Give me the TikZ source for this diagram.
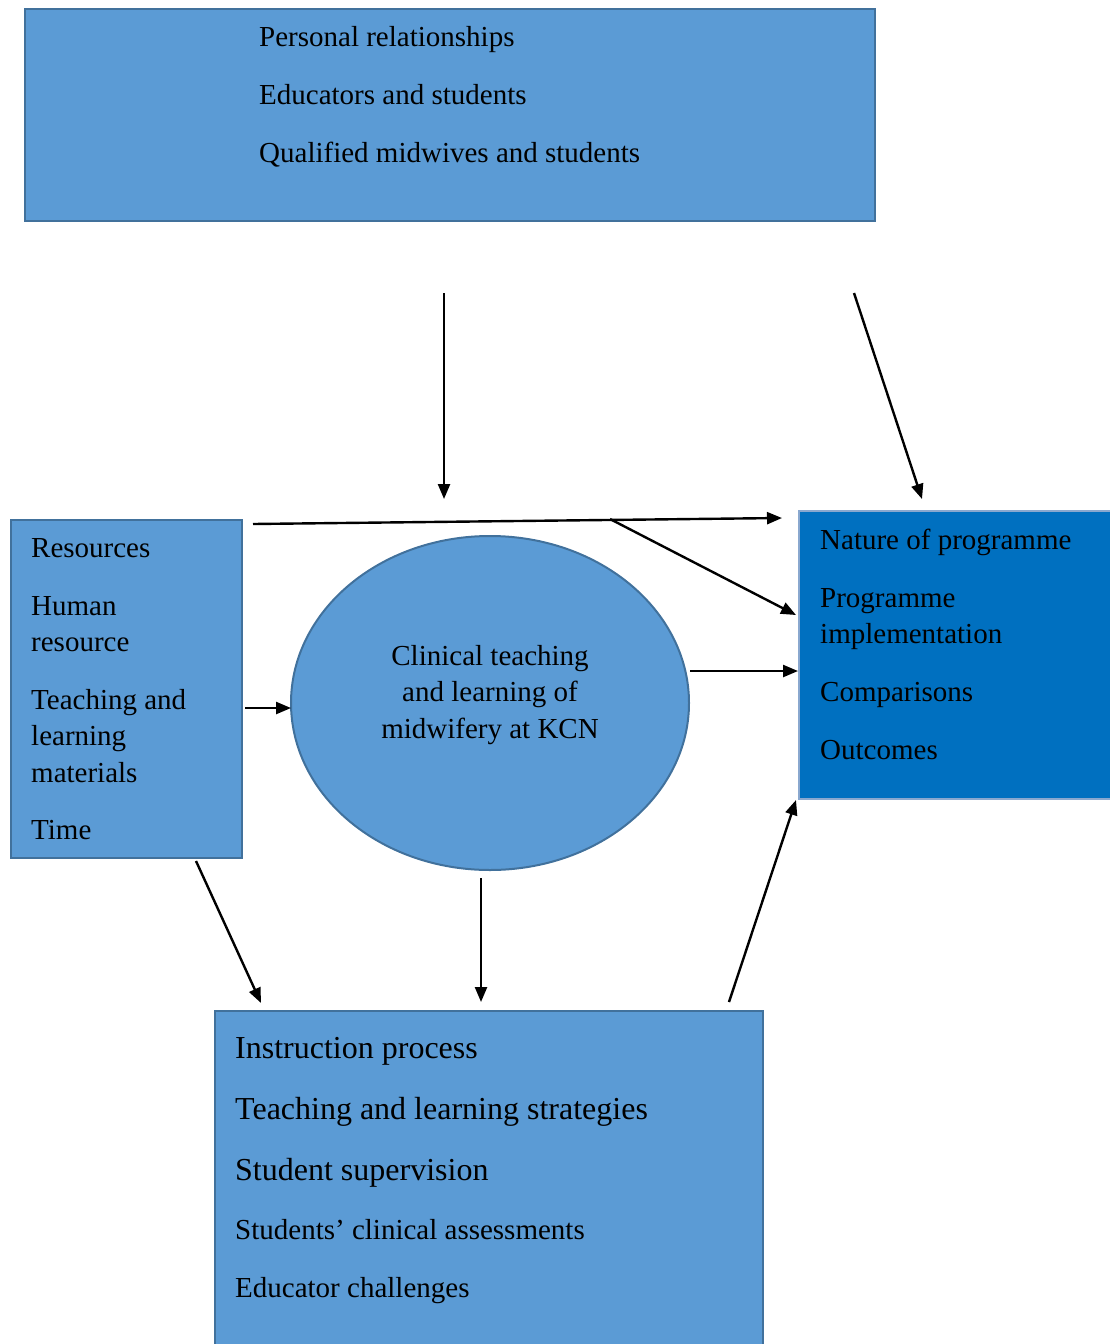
\documentclass[tikz,border=0pt]{standalone}
\usepackage{fontspec}
\setmainfont{Liberation Serif}
\usetikzlibrary{arrows.meta,shapes.geometric}
\definecolor{lightblue}{HTML}{5B9BD5}
\definecolor{edgeblue}{HTML}{41719C}
\definecolor{darkblue}{HTML}{0070C0}
\definecolor{paleedge}{HTML}{8AA8CF}
\begin{document}
\begin{tikzpicture}[x=1pt,y=-1pt,
  box/.style={draw=edgeblue,line width=2pt,fill=lightblue,rectangle,inner sep=0pt,anchor=north west},
  txt/.style={anchor=base west,inner sep=0pt,font=\fontsize{29}{36}\selectfont},
  bigtxt/.style={anchor=base west,inner sep=0pt,font=\fontsize{32}{38}\selectfont},
  arr/.style={line width=2.4pt,-{Triangle[length=15pt,width=12pt]}}]
\useasboundingbox (0,0) rectangle (1110,1344);
% boxes
\node[box,minimum width=850pt,minimum height=212pt] (top) at (24,8) {};
\node[box,minimum width=231pt,minimum height=338pt] (res) at (10,519) {};
\node[draw=edgeblue,line width=2pt,fill=lightblue,ellipse,minimum width=398pt,minimum height=334pt,inner sep=0pt] (circ) at (490,703) {};
\node[box,draw=paleedge,fill=darkblue,minimum width=320pt,minimum height=288pt] (out) at (798,510) {};
\node[box,minimum width=548pt,minimum height=340pt] (proc) at (214,1010) {};
% top texts
\node[txt] (t1) at (259,46) {Personal relationships};
\node[txt] (t2) at (259,104) {Educators and students};
\node[txt] (t3) at (259,162) {Qualified midwives and students};
% left texts
\node[txt] (r1) at (31,557) {Resources};
\node[txt] (r2) at (31,615) {Human};
\node[txt] (r3) at (31,651) {resource};
\node[txt] (r4) at (31,709) {Teaching and};
\node[txt] (r5) at (31,745) {learning};
\node[txt] (r6) at (31,782) {materials};
\node[txt] (r7) at (31,839) {Time};
% ellipse text
\node[anchor=base,inner sep=0pt,font=\fontsize{29}{36}\selectfont] (c1) at (490,665) {Clinical teaching};
\node[anchor=base,inner sep=0pt,font=\fontsize{29}{36}\selectfont] (c2) at (490,701) {and learning of};
\node[anchor=base,inner sep=0pt,font=\fontsize{29}{36}\selectfont] (c3) at (490,738) {midwifery at KCN};
% right texts
\node[txt] (o1) at (820,549) {Nature of programme};
\node[txt] (o2) at (820,607) {Programme};
\node[txt] (o3) at (820,643) {implementation};
\node[txt] (o4) at (820,701) {Comparisons};
\node[txt] (o5) at (820,759) {Outcomes};
% bottom texts
\node[bigtxt] (p1) at (235,1058) {Instruction process};
\node[bigtxt] (p2) at (235,1119) {Teaching and learning strategies};
\node[bigtxt] (p3) at (235,1180) {Student supervision};
\node[txt] (p4) at (235,1239) {Students’ clinical assessments};
\node[txt] (p5) at (235,1297) {Educator challenges};
% connector coordinates
\coordinate (a1s) at (444,293); \coordinate (a1e) at (444,499);
\coordinate (a2s) at (854,293); \coordinate (a2e) at (922,499);
\coordinate (a3s) at (253,524); \coordinate (a3e) at (782,518);
\coordinate (a4s) at (610,519); \coordinate (a4e) at (796,615);
\coordinate (a5s) at (690,671); \coordinate (a5e) at (798,671);
\coordinate (a6s) at (245,708); \coordinate (a6e) at (291,708);
\coordinate (a7s) at (196,861); \coordinate (a7e) at (261,1003);
\coordinate (a8s) at (481,878); \coordinate (a8e) at (481,1002);
\coordinate (a9s) at (729,1002); \coordinate (a9e) at (796,800);
\draw[arr] (a1s) -- (a1e);
\draw[arr] (a2s) -- (a2e);
\draw[arr] (a3s) -- (a3e);
\draw[arr] (a4s) -- (a4e);
\draw[arr] (a5s) -- (a5e);
\draw[arr] (a6s) -- (a6e);
\draw[arr] (a7s) -- (a7e);
\draw[arr] (a8s) -- (a8e);
\draw[arr] (a9s) -- (a9e);
\end{tikzpicture}
\end{document}
